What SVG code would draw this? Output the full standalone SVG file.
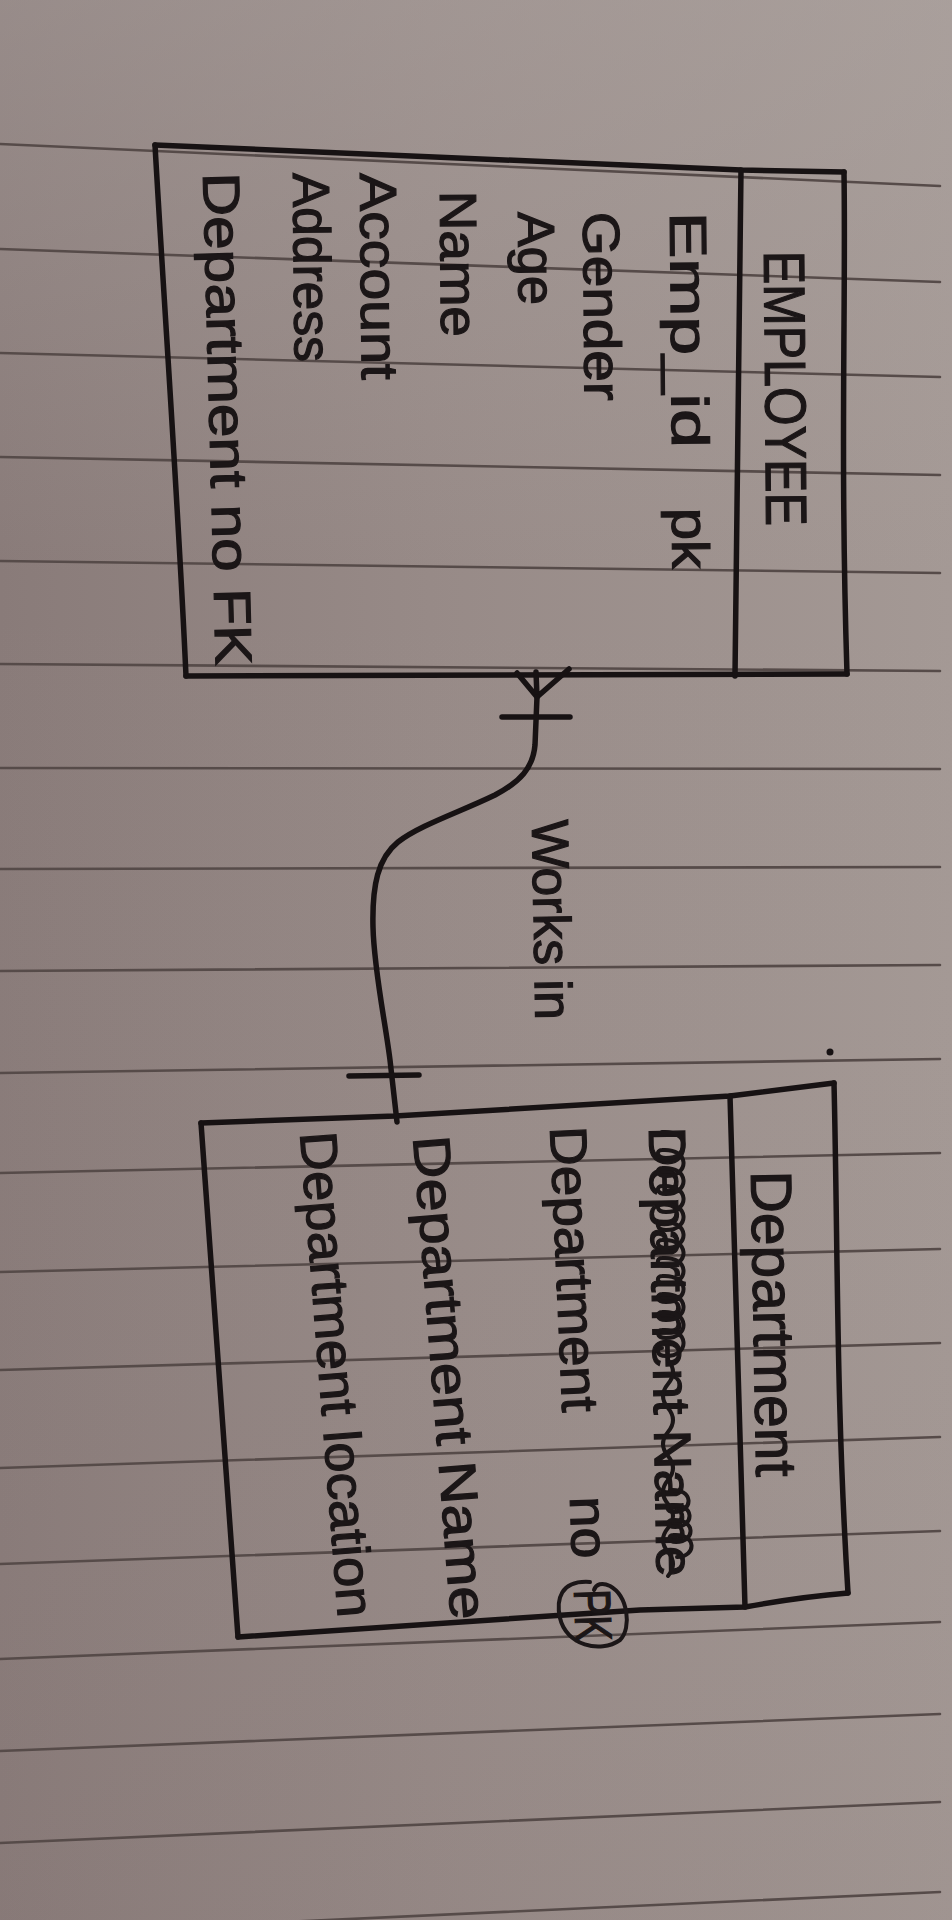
<svg xmlns="http://www.w3.org/2000/svg" width="952" height="1920" viewBox="0 0 952 1920">
  <defs>
    <linearGradient id="paperShade" x1="0" y1="0" x2="1" y2="0">
      <stop offset="0" stop-color="#897b79"/>
      <stop offset="0.45" stop-color="#978a87"/>
      <stop offset="1" stop-color="#a49995"/>
    </linearGradient>
    <linearGradient id="paperTop" x1="0" y1="0" x2="0" y2="1">
      <stop offset="0" stop-color="#b3aba8" stop-opacity="0.35"/>
      <stop offset="0.3" stop-color="#b3aba8" stop-opacity="0"/>
      <stop offset="1" stop-color="#7a6a6a" stop-opacity="0.1"/>
    </linearGradient>
    <style>
      .rule { stroke: #564b49; stroke-width: 2.6; fill: none; stroke-linecap: round; }
      .ink { stroke: #171213; stroke-width: 5.5; fill: none; stroke-linecap: round; stroke-linejoin: round; }
      .pen { stroke: #1b1617; stroke-width: 4; fill: none; stroke-linecap: round; stroke-linejoin: round; }
      .hand { font-family: "Liberation Sans", "DejaVu Sans", sans-serif; fill: #1b1617; stroke: #1b1617; stroke-width: 1.2; font-size: 52px; }
      .title { font-size: 58px; }
    </style>
  </defs>

  <!-- lined notebook page -->
  <g id="paper">
    <rect x="0" y="0" width="952" height="1920" fill="url(#paperShade)"/>
    <rect x="0" y="0" width="952" height="1920" fill="url(#paperTop)"/>
    <path class="rule" d="M0,144 L940,186"/>
    <path class="rule" d="M0,249 L940,282"/>
    <path class="rule" d="M0,353 L940,377"/>
    <path class="rule" d="M0,457 L940,475"/>
    <path class="rule" d="M0,561 L940,573"/>
    <path class="rule" d="M0,664 L940,671"/>
    <path class="rule" d="M0,768 L940,769"/>
    <path class="rule" d="M0,869 L940,867"/>
    <path class="rule" d="M0,971 L940,965"/>
    <path class="rule" d="M0,1073 L940,1059"/>
    <path class="rule" d="M0,1173 L940,1153"/>
    <path class="rule" d="M0,1272 L940,1249"/>
    <path class="rule" d="M0,1370 L940,1343"/>
    <path class="rule" d="M0,1468 L940,1437"/>
    <path class="rule" d="M0,1564 L940,1531"/>
    <path class="rule" d="M0,1659 L940,1622"/>
    <path class="rule" d="M0,1751 L940,1714"/>
    <path class="rule" d="M0,1843 L940,1802"/>
    <path class="rule" d="M0,1935 L940,1892"/>
  </g>

  <!-- EMPLOYEE entity -->
  <g id="employee">
    <path class="ink" d="M155,145 L741,170 L844,172"/>
    <path class="ink" d="M844,172 C846,300 840,450 847,674"/>
    <path class="ink" d="M186,676 L847,674"/>
    <path class="ink" d="M155,145 C165,320 178,500 186,676"/>
    <path class="ink" d="M741,170 L735,676"/>
    <text class="hand title" transform="translate(764,251) rotate(89.5)" textLength="275" lengthAdjust="spacingAndGlyphs">EMPLOYEE</text>
    <text class="hand" transform="translate(670,212) rotate(89.5)" textLength="236" lengthAdjust="spacingAndGlyphs">Emp_id</text>
    <text class="hand" transform="translate(672,508) rotate(89.5)" textLength="61" lengthAdjust="spacingAndGlyphs">pk</text>
    <text class="hand" transform="translate(583,212) rotate(89.5)" textLength="189" lengthAdjust="spacingAndGlyphs">Gender</text>
    <text class="hand" transform="translate(518,212) rotate(89.5)" textLength="93" lengthAdjust="spacingAndGlyphs">Age</text>
    <text class="hand" transform="translate(440,191) rotate(89.5)" textLength="146" lengthAdjust="spacingAndGlyphs">Name</text>
    <text class="hand" transform="translate(360,173) rotate(89.5)" textLength="207" lengthAdjust="spacingAndGlyphs">Account</text>
    <text class="hand" transform="translate(293,173) rotate(89.5)" textLength="189" lengthAdjust="spacingAndGlyphs">Address</text>
    <text class="hand" transform="translate(203,173) rotate(88.5)" textLength="493" lengthAdjust="spacingAndGlyphs">Department no FK</text>
  </g>

  <!-- Department entity -->
  <g id="department">
    <path class="ink" d="M201,1123 L395,1116 L730,1096 L834,1083"/>
    <path class="ink" d="M834,1083 C838,1250 836,1400 848,1593"/>
    <path class="ink" d="M238,1637 L640,1610 L745,1607 Q800,1597 848,1593"/>
    <path class="ink" d="M201,1123 L238,1637"/>
    <path class="ink" d="M730,1096 L745,1607"/>
    <circle cx="830" cy="1052" r="3.5" fill="#171213"/>
    <text class="hand title" transform="translate(751,1171) rotate(89)" textLength="306" lengthAdjust="spacingAndGlyphs">Department</text>
    <!-- struck-out attribute -->
    <text class="hand" transform="translate(649,1127) rotate(89)" textLength="450" lengthAdjust="spacingAndGlyphs">Department Name</text>
    <path class="pen" d="M662,1132 c28,-2 28,26 4,26 c-10,0 -10,-8 -4,-8 c28,-2 28,26 4,26 c-10,0 -10,-8 -4,-8 c28,-2 28,26 4,26 c-10,0 -10,-8 -4,-8 c28,-2 28,26 4,26 c-10,0 -10,-8 -4,-8 c28,-2 28,26 4,26 c-10,0 -10,-8 -4,-8 c28,-2 28,26 4,26 c-10,0 -10,-8 -4,-8 c28,-2 28,26 4,26 c-10,0 -10,-8 -4,-8 c28,-2 28,26 4,26 c-10,0 -10,-8 -4,-8 c28,-2 28,26 4,26 c-10,0 -10,-8 -4,-8 c28,-2 28,26 4,26 c-10,0 -10,-8 -4,-8 c28,-2 28,26 4,26 c-10,0 -10,-8 -4,-8 c28,-2 28,26 4,26 c-10,0 -10,-8 -4,-8"/>
    <path class="pen" d="M668,1360 q10,12 0,24 q-10,12 0,24 q10,12 0,24 q-10,12 0,24 q10,12 0,24 q-10,12 0,24 q10,12 0,24 q-10,12 0,24 q10,12 0,24"/>
    <path class="pen" d="M670,1490 c24,-2 24,22 4,22 c-8,0 -8,-7 -3,-7 c24,-2 24,22 4,22 c-8,0 -8,-7 -3,-7 c24,-2 24,22 4,22 c-8,0 -8,-7 -3,-7 c24,-2 24,22 4,22"/>
    <text class="hand" transform="translate(550,1127) rotate(87.5)" textLength="286" lengthAdjust="spacingAndGlyphs">Department</text>
    <text class="hand" transform="translate(570,1497) rotate(88)" textLength="62" lengthAdjust="spacingAndGlyphs">no</text>
    <text class="hand" transform="translate(574,1590) rotate(88)" textLength="52" lengthAdjust="spacingAndGlyphs">PK</text>
    <path class="pen" d="M590,1582 C560,1580 556,1600 560,1618 C566,1645 600,1654 620,1640 C632,1628 628,1596 610,1586 C602,1582 596,1584 594,1590"/>
    <text class="hand" transform="translate(413,1137) rotate(85.5)" textLength="485" lengthAdjust="spacingAndGlyphs">Department Name</text>
    <text class="hand" transform="translate(300,1133) rotate(85.5)" textLength="487" lengthAdjust="spacingAndGlyphs">Department location</text>
  </g>

  <!-- relationship: many employees work in one department -->
  <g id="connectors">
    <path class="ink" d="M517,673 L537,697 M569,669 L537,697 M536,672 L537,697"/>
    <path class="ink" d="M502,717 L570,717"/>
    <path class="ink" d="M537,697 L535,745 C533,768 520,782 495,795 C460,812 420,825 398,842 C378,858 372,885 373,927 C374,970 385,1020 390,1060 L397,1122"/>
    <path class="ink" d="M349,1076 L419,1075"/>
    <text class="hand" transform="translate(532,820) rotate(89)" textLength="200" lengthAdjust="spacingAndGlyphs">Works in</text>
  </g>
</svg>
